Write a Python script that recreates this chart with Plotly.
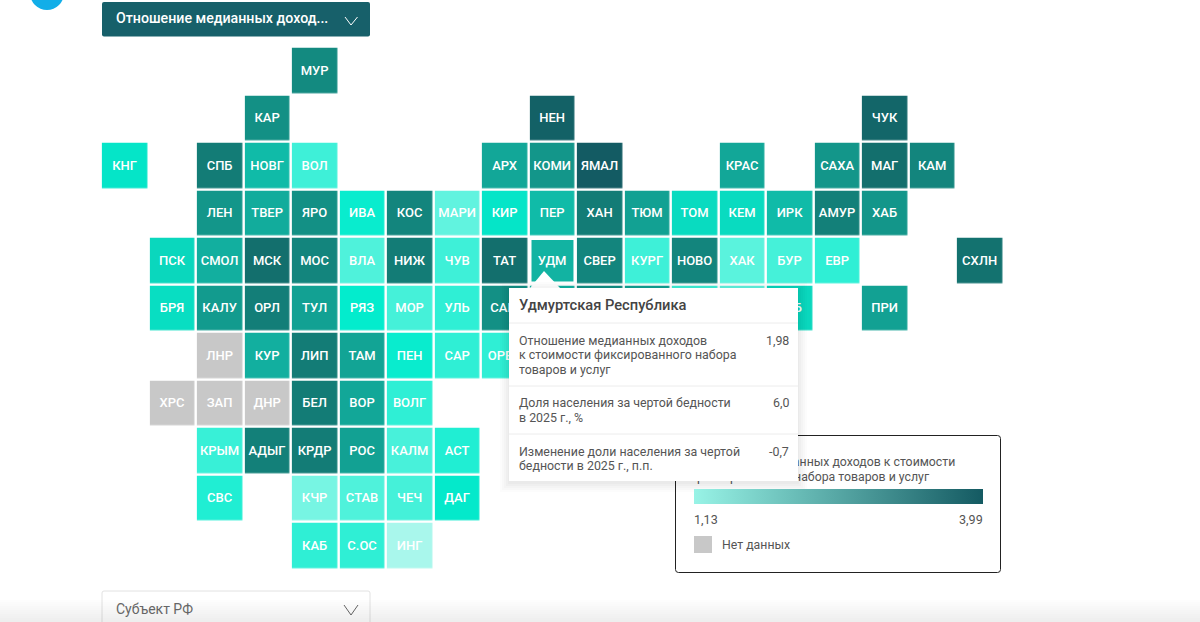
import plotly.graph_objects as go

# Region codes with their grid position and income-to-basket ratio
labels = ["МУР", "КАР", "НЕН", "ЧУК",
          "КНГ", "СПБ", "НОВГ", "ВОЛ", "АРХ", "КОМИ", "ЯМАЛ", "КРАС", "САХА", "МАГ", "КАМ",
          "ЛЕН", "ТВЕР", "ЯРО", "ИВА", "КОС", "МАРИ", "КИР", "ПЕР", "ХАН", "ТЮМ", "ТОМ", "КЕМ", "ИРК", "АМУР", "ХАБ",
          "ПСК", "СМОЛ", "МСК", "МОС", "ВЛА", "НИЖ", "ЧУВ", "ТАТ", "УДМ", "СВЕР", "КУРГ", "НОВО", "ХАК", "БУР", "ЕВР", "СХЛН",
          "БРЯ", "КАЛУ", "ОРЛ", "ТУЛ", "РЯЗ", "МОР", "УЛЬ", "САМ", "", "", "", "", "", "ЗАБ", "ПРИ",
          "КУР", "ЛИП", "ТАМ", "ПЕН", "САР", "ОРЕН",
          "БЕЛ", "ВОР", "ВОЛГ",
          "КРЫМ", "АДЫГ", "КРДР", "РОС", "КАЛМ", "АСТ",
          "СВС", "КЧР", "СТАВ", "ЧЕЧ", "ДАГ",
          "КАБ", "С.ОС", "ИНГ"]
cols = [4, 3, 9, 16,
        0, 2, 3, 4, 8, 9, 10, 13, 15, 16, 17,
        2, 3, 4, 5, 6, 7, 8, 9, 10, 11, 12, 13, 14, 15, 16,
        1, 2, 3, 4, 5, 6, 7, 8, 9, 10, 11, 12, 13, 14, 15, 18,
        1, 2, 3, 4, 5, 6, 7, 8, 9, 10, 11, 12, 13, 14, 16,
        3, 4, 5, 6, 7, 8,
        4, 5, 6,
        2, 3, 4, 5, 6, 7,
        2, 4, 5, 6, 7,
        4, 5, 6]
rows = [0, 1, 1, 1,
        2, 2, 2, 2, 2, 2, 2, 2, 2, 2, 2,
        3, 3, 3, 3, 3, 3, 3, 3, 3, 3, 3, 3, 3, 3, 3,
        4, 4, 4, 4, 4, 4, 4, 4, 4, 4, 4, 4, 4, 4, 4, 4,
        5, 5, 5, 5, 5, 5, 5, 5, 5, 5, 5, 5, 5, 5, 5,
        6, 6, 6, 6, 6, 6,
        7, 7, 7,
        8, 8, 8, 8, 8, 8,
        9, 9, 9, 9, 9,
        10, 10, 10]
values = [2.7, 2.6, 3.8, 3.6,
          1.75, 3.0, 1.95, 1.5, 2.2, 2.5, 3.99, 2.2, 2.5, 3.3, 2.8,
          2.5, 2.1, 2.6, 1.68, 2.8, 1.4, 1.75, 1.95, 3.0, 2.3, 1.82, 1.82, 1.95, 2.9, 2.5,
          1.85, 2.05, 3.3, 2.8, 1.45, 3.0, 1.5, 3.3, 1.98, 2.8, 1.5, 2.8, 1.42, 1.48, 1.55, 3.2,
          1.8, 2.4, 2.95, 2.3, 1.7, 1.48, 1.55, 2.6, 2.0, 2.6, 2.3, 1.5, 1.4, 1.85, 2.3,
          2.05, 3.0, 2.25, 1.68, 1.55, 1.55,
          3.0, 2.2, 1.55,
          1.52, 2.9, 3.0, 2.3, 1.47, 1.6,
          1.6, 1.33, 1.45, 1.48, 1.72,
          1.55, 1.55, 1.13]

# Regions without data
nodata_labels = ["ЛНР", "ХРС", "ЗАП", "ДНР"]
nodata_cols = [2, 1, 2, 3]
nodata_rows = [6, 7, 7, 7]

range_min = 1.13
range_max = 3.99
legend_ticks = ["1,13", "3,99"]
legend_title_lines = ["Отношение медианных доходов к стоимости",
                      "фиксированного набора товаров и услуг"]
tooltip_title = "Удмуртская Республика"
tooltip_rows = [
    (["Отношение медианных доходов", "к стоимости фиксированного набора", "товаров и услуг"], "1,98"),
    (["Доля населения за чертой бедности", "в 2025 г., %"], "6,0"),
    (["Изменение доли населения за чертой", "бедности в 2025 г., п.п."], "-0,7"),
]

TILE_STOPS = [(1.13, "#a9f7ec"), (1.35, "#72f5e2"), (1.5, "#3ef0d8"), (1.7, "#03eccd"),
              (1.85, "#0ad7bd"), (1.98, "#12b3a2"), (2.3, "#12a193"), (2.7, "#138a80"),
              (3.2, "#13726f"), (3.99, "#135b63")]
tile_scale = [[(v - range_min) / (range_max - range_min), c] for v, c in TILE_STOPS]
legend_scale = [[0, "#98f3e6"], [1, "#145a62"]]

N_COLS, N_ROWS = 19, 11
FONT = "Roboto, 'Noto Sans', sans-serif"
TEXT_GREY = "#555555"
BODY_SIZE = 12.4
LABEL_NUDGE = 0.02  # tile codes sit a pixel below the geometric centre


def blank():
    return [[None] * N_COLS for _ in range(N_ROWS)]


z_grid = blank()
for c, r, v in zip(cols, rows, values):
    z_grid[r][c] = v

nodata_z = blank()
for c, r in zip(nodata_cols, nodata_rows):
    nodata_z[r][c] = 1

tile_font = dict(family=FONT, size=13, color="white", weight=500)
fig = go.Figure()
fig.add_trace(go.Heatmap(z=z_grid, x=list(range(N_COLS)), y=list(range(N_ROWS)),
                         zmin=range_min, zmax=range_max, colorscale=tile_scale,
                         showscale=False, xgap=2.5, ygap=2.5, hoverinfo="skip"))
fig.add_trace(go.Heatmap(z=nodata_z, x=list(range(N_COLS)), y=list(range(N_ROWS)),
                         zmin=0, zmax=1, colorscale=[[0, "#c8c8c8"], [1, "#c8c8c8"]],
                         showscale=False, xgap=2.5, ygap=2.5, hoverinfo="skip"))
fig.add_trace(go.Scatter(x=cols + nodata_cols, y=[r + LABEL_NUDGE for r in rows + nodata_rows], mode="text",
                         text=labels + nodata_labels, textposition="middle center",
                         textfont=tile_font, hoverinfo="skip", showlegend=False))

# Legend heading sits in the trace layer so the tooltip panel covers it
fig.add_trace(go.Scatter(x=[694, 694], y=[462.5, 477.5], xaxis="x2", yaxis="y2", mode="text",
                         text=legend_title_lines, textposition="middle right",
                         textfont=dict(family=FONT, size=12.3, color=TEXT_GREY),
                         hoverinfo="skip", showlegend=False))

# Colour ramp of the legend
fig.add_trace(go.Scatter(x=[0, 0], y=[0, 0], xaxis="x2", yaxis="y2", mode="markers",
                         marker=dict(size=1, opacity=0, color=[range_min, range_max],
                                     cmin=range_min, cmax=range_max, colorscale=legend_scale,
                                     showscale=True,
                                     colorbar=dict(orientation="h", x=694 / 1200, xanchor="left",
                                                   y=1 - 504.5 / 622, yanchor="bottom", xpad=0, ypad=0,
                                                   thicknessmode="pixels", thickness=15,
                                                   lenmode="pixels", len=289, outlinewidth=0,
                                                   showticklabels=False, ticks="")),
                         hoverinfo="skip", showlegend=False))

shapes, notes = [], []


def rect(x0, y0, x1, y1, fill=None, line=None, width=1, layer="above", opacity=1):
    shapes.append(dict(type="rect", xref="x2", yref="y2", x0=x0, y0=y0, x1=x1, y1=y1,
                       fillcolor=fill or "rgba(0,0,0,0)", line=dict(color=line or "rgba(0,0,0,0)", width=width),
                       layer=layer, opacity=opacity))


def rounded(x0, y0, x1, y1, rad, fill=None, line=None, width=1, layer="above"):
    path = (f"M{x0 + rad},{y0} L{x1 - rad},{y0} Q{x1},{y0} {x1},{y0 + rad} L{x1},{y1 - rad} "
            f"Q{x1},{y1} {x1 - rad},{y1} L{x0 + rad},{y1} Q{x0},{y1} {x0},{y1 - rad} "
            f"L{x0},{y0 + rad} Q{x0},{y0} {x0 + rad},{y0} Z")
    shapes.append(dict(type="path", xref="x2", yref="y2", path=path,
                       fillcolor=fill or "rgba(0,0,0,0)", line=dict(color=line or "rgba(0,0,0,0)", width=width),
                       layer=layer))


def polyline(points, color, width):
    path = "M" + " L".join(f"{x},{y}" for x, y in points)
    shapes.append(dict(type="path", xref="x2", yref="y2", path=path, line=dict(color=color, width=width),
                       fillcolor="rgba(0,0,0,0)", layer="above"))


def note(x, y, text, size=BODY_SIZE, color=TEXT_GREY, anchor="left", weight=400):
    notes.append(dict(xref="x2", yref="y2", x=x, y=y, text=text, showarrow=False, xanchor=anchor,
                      yanchor="middle", borderpad=0, borderwidth=0,
                      font=dict(family=FONT, size=size, color=color, weight=weight)))


# Logo badge cut by the top edge
shapes.append(dict(type="circle", xref="x2", yref="y2", x0=30, y0=-24, x1=64, y1=10,
                   fillcolor="#12aee8", line=dict(width=0), layer="above"))

# Indicator selector
rounded(102, 2, 370, 36.5, 2, fill="#17606a")
note(116, 18, "Отношение медианных доход...", size=14.2, color="white", weight=500)
polyline([(345, 17), (351, 25), (357.5, 17)], "white", 1)

# Region selector at the bottom
rounded(102, 591, 370, 640, 2, fill="white", line="#e2e2e2")
note(116, 609, "Субъект РФ", size=14, color="#666666")
polyline([(344, 605), (351, 615), (358, 605)], "#666666", 1)

# Legend frame and its lower part
rounded(675.5, 435.5, 1000.5, 572.5, 3, line="#222222", width=1)
note(694, 519, legend_ticks[0], size=12.6)
note(983, 519, legend_ticks[1], size=12.6, anchor="right")
rect(694, 536, 712, 553, fill="#c8c8c8")
note(722, 545, "Нет данных", size=12.3)

# Highlight around the hovered tile and the tooltip arrow
rect(530, 238.5, 575, 283, line="white", width=3)
shapes.append(dict(type="path", xref="x2", yref="y2", path="M544,271 L560,288 L530,288 Z",
                   fillcolor="white", line=dict(width=0), layer="above"))

# Soft shadow of the tooltip panel
for grow, alpha in [(9, 0.012), (7, 0.014), (5, 0.016), (3, 0.018), (1, 0.02)]:
    rect(509 - grow, 288 - grow + 3, 798 + grow, 481 + grow + 2, fill=f"rgba(0,0,0,{alpha})")
rect(509, 288, 798, 481, fill="white")
for y in [323, 386, 434]:
    shapes.append(dict(type="line", xref="x2", yref="y2", x0=509, x1=798, y0=y, y1=y,
                       line=dict(color="#ececec", width=1), layer="above"))

note(519, 305, tooltip_title, size=14.7, color="#444444", weight=500)
tooltip_lines_y = [[340, 354.5, 369], [402, 417], [451, 465]]
for (lines, value), ys in zip(tooltip_rows, tooltip_lines_y):
    for line, y in zip(lines, ys):
        note(519, y, line)
    note(789, ys[0], value, anchor="right")

# Grey fade along the bottom edge of the page
for y in range(600, 622, 2):
    rect(0, y, 1200, y + 2, fill="black", opacity=(y - 598) / 24 * 0.07)

# Grid cell centres: column c at 124.6 + 47.5c px, row r at 70.5 + 47.5r px
fig.update_layout(
    width=1200, height=622, margin=dict(l=0, r=0, t=0, b=0), autosize=False,
    paper_bgcolor="white", plot_bgcolor="white", showlegend=False,
    xaxis=dict(range=[(0 - 124.6) / 47.5, (1200 - 124.6) / 47.5], visible=False, fixedrange=True),
    yaxis=dict(range=[(622 - 70.5) / 47.5, (0 - 70.5) / 47.5], visible=False, fixedrange=True),
    xaxis2=dict(range=[0, 1200], visible=False, overlaying="x", fixedrange=True),
    yaxis2=dict(range=[622, 0], visible=False, overlaying="y", fixedrange=True),
    shapes=shapes, annotations=notes,
)

fig.write_html("out.html", config=dict(displayModeBar=False))
